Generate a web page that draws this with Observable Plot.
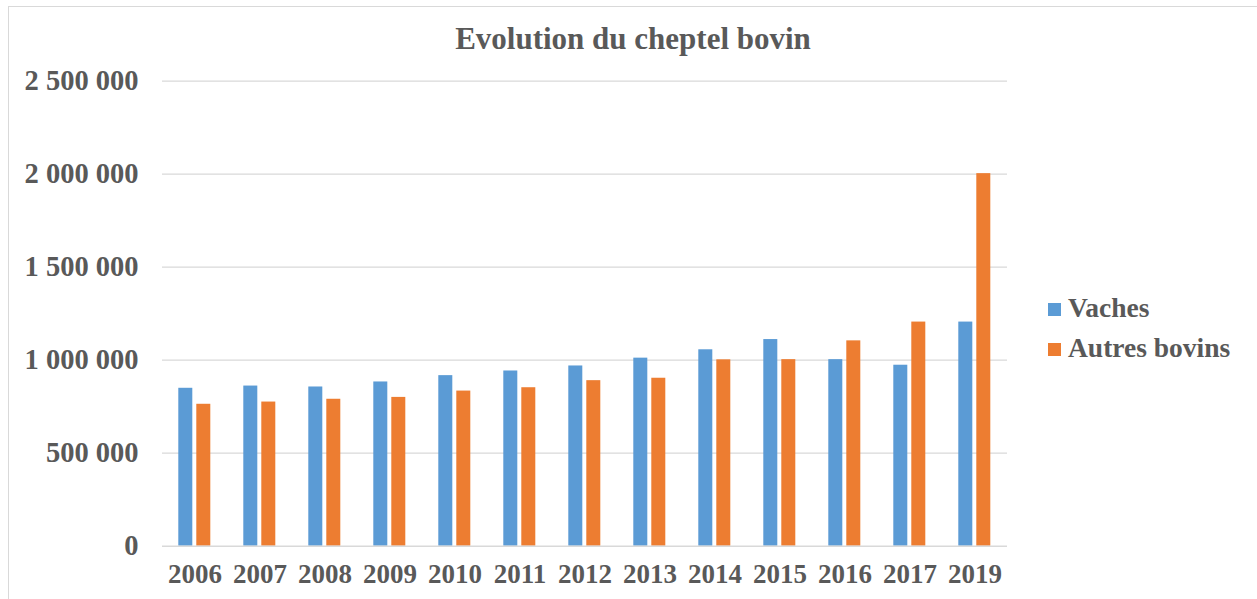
<!DOCTYPE html>
<html>
<head>
<meta charset="utf-8">
<script src="https://cdn.jsdelivr.net/npm/d3@7"></script>
<script src="https://cdn.jsdelivr.net/npm/@observablehq/plot@0.6"></script>
<style>
  html, body { margin: 0; padding: 0; background: #fff; overflow: hidden; }
  #wrap { position: relative; width: 1257px; height: 599px; overflow: hidden; }
  #border { position: absolute; left: 8px; top: 5.5px; width: 1400px; height: 800px; border: 1.5px solid #d9d9d9; box-sizing: border-box; pointer-events: none; }
</style>
</head>
<body>
<div id="wrap"><div id="border"></div></div>
<script>
const title = "Evolution du cheptel bovin";
const years = ["2006","2007","2008","2009","2010","2011","2012","2013","2014","2015","2016","2017","2019"];
const seriesNames = ["Vaches", "Autres bovins"];
const seriesColors = ["#5B9BD5", "#ED7D31"];
const vaches = [849000, 861000, 856000, 883000, 917000, 942000, 969000, 1011000, 1056000, 1111000, 1003000, 973000, 1205000];
const autres = [763000, 775000, 790000, 800000, 834000, 852000, 890000, 903000, 1002000, 1003000, 1104000, 1205000, 2003000];
const yTicks = [0, 500000, 1000000, 1500000, 2000000, 2500000];

const data = [];
years.forEach((y, i) => {
  data.push({year: y, series: seriesNames[0], value: vaches[i]});
  data.push({year: y, series: seriesNames[1], value: autres[i]});
});

const fmt = v => d3.format(",")(v).replace(/,/g, " ");
const font = "'Liberation Serif', 'Times New Roman', serif";

const chart = Plot.plot({
  width: 1257,
  height: 599,
  marginTop: 80.7,
  marginBottom: 53.3,
  marginLeft: 161.7,
  marginRight: 250.3,
  style: {fontFamily: font, fontSize: "27px", fontWeight: "bold", color: "#595959", background: "transparent"},
  fx: {domain: years, padding: 0, label: null, tickSize: 0, tickPadding: 18, axis: "bottom"},
  x: {domain: seriesNames, paddingInner: 0.216, paddingOuter: 0.865, axis: null},
  y: {domain: [0, 2500000], ticks: yTicks, tickFormat: fmt, tickSize: 0, tickPadding: 24, label: null},
  color: {domain: seriesNames, range: seriesColors},
  marks: [
    Plot.gridY(yTicks.filter(d => d > 0), {stroke: "#d9d9d9", strokeOpacity: 1, strokeWidth: 1.3}),
    Plot.barY(data, {fx: "year", x: "series", y: "value", fill: "series"}),
    Plot.ruleY([0], {stroke: "#d9d9d9", strokeWidth: 1.6})
  ]
});

const svg = d3.select(chart);
svg.selectAll('[aria-label="y-axis tick label"]').attr("font-size", 28.5);

svg.append("text")
  .attr("x", 633).attr("y", 48.5)
  .attr("text-anchor", "middle")
  .attr("font-family", font).attr("font-size", 31).attr("font-weight", "bold")
  .attr("fill", "#595959")
  .text(title);

const legend = svg.append("g").attr("font-family", font).attr("font-size", 27.5).attr("font-weight", "bold").attr("text-anchor", "start");
seriesNames.forEach((name, i) => {
  legend.append("rect").attr("x", 1048).attr("y", 303 + i * 40).attr("width", 13).attr("height", 13).attr("fill", seriesColors[i]);
  legend.append("text").attr("x", 1068).attr("y", 316.7 + i * 40).attr("text-anchor", "start").attr("fill", "#595959").text(name);
});

document.getElementById("wrap").appendChild(chart);
chart.style.position = "absolute";
chart.style.left = "0px";
chart.style.top = "0px";
</script>
</body>
</html>
